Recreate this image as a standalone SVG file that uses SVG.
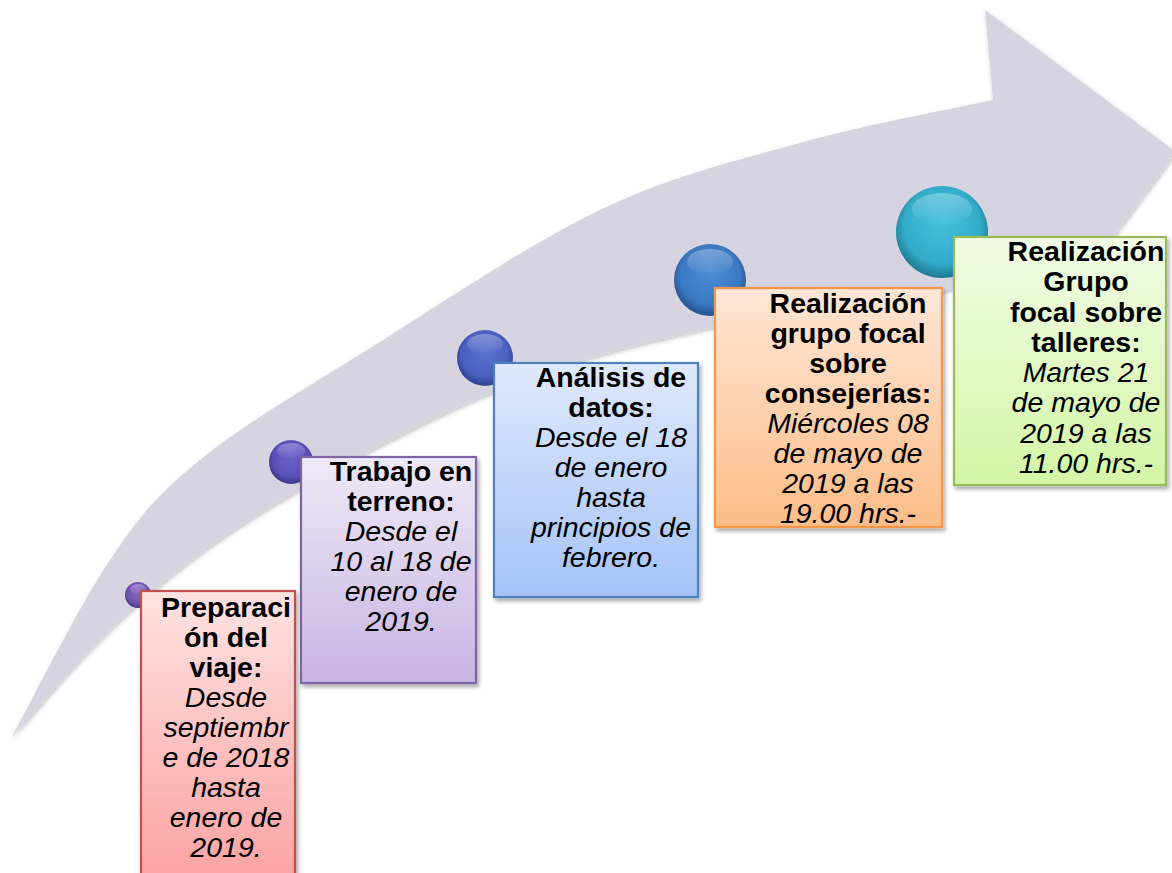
<svg xmlns="http://www.w3.org/2000/svg" width="1172" height="873" viewBox="0 0 1172 873">
<defs>
<style>
.t{font-family:"Liberation Sans",Arial,sans-serif;font-size:28.5px;fill:#000;text-anchor:middle}
.b{font-weight:bold}
.i{font-style:italic}
.box{stroke-width:2.2}
</style>
<filter id="sh" x="-10%" y="-10%" width="130%" height="130%">
<feDropShadow dx="2" dy="3" stdDeviation="2" flood-color="#000" flood-opacity="0.35"/>
</filter>
<filter id="ash" x="-5%" y="-5%" width="110%" height="110%">
<feDropShadow dx="1" dy="2" stdDeviation="2" flood-color="#000" flood-opacity="0.25"/>
</filter>
<linearGradient id="gR" x1="0" y1="0" x2="0" y2="1"><stop offset="0" stop-color="#fde3e2"/><stop offset="1" stop-color="#fba3a2"/></linearGradient>
<linearGradient id="gP" x1="0" y1="0" x2="0" y2="1"><stop offset="0" stop-color="#efe9f7"/><stop offset="1" stop-color="#c8b5e2"/></linearGradient>
<linearGradient id="gB" x1="0" y1="0" x2="0" y2="1"><stop offset="0" stop-color="#dfe9fc"/><stop offset="1" stop-color="#a6c3f7"/></linearGradient>
<linearGradient id="gO" x1="0" y1="0" x2="0" y2="1"><stop offset="0" stop-color="#fee6d6"/><stop offset="1" stop-color="#fcbd88"/></linearGradient>
<linearGradient id="gG" x1="0" y1="0" x2="0" y2="1"><stop offset="0" stop-color="#f2fce6"/><stop offset="1" stop-color="#d3f6a6"/></linearGradient>
<radialGradient id="s1" cx="0.5" cy="0.45" r="0.55" fx="0.5" fy="0.35"><stop offset="0" stop-color="#8a6cc6"/><stop offset="0.75" stop-color="#6f52ad"/><stop offset="1" stop-color="#4a3480"/></radialGradient>
<radialGradient id="s2" cx="0.5" cy="0.45" r="0.55" fx="0.5" fy="0.35"><stop offset="0" stop-color="#6b63cc"/><stop offset="0.75" stop-color="#5950b7"/><stop offset="1" stop-color="#3b3488"/></radialGradient>
<radialGradient id="s3" cx="0.5" cy="0.45" r="0.55" fx="0.5" fy="0.35"><stop offset="0" stop-color="#5d72d0"/><stop offset="0.75" stop-color="#4a5fbf"/><stop offset="1" stop-color="#2f3f8c"/></radialGradient>
<radialGradient id="s4" cx="0.5" cy="0.45" r="0.55" fx="0.5" fy="0.35"><stop offset="0" stop-color="#4d8ed4"/><stop offset="0.75" stop-color="#3b78c2"/><stop offset="1" stop-color="#24518c"/></radialGradient>
<radialGradient id="s5" cx="0.5" cy="0.45" r="0.55" fx="0.5" fy="0.35"><stop offset="0" stop-color="#46c2dc"/><stop offset="0.75" stop-color="#33acca"/><stop offset="1" stop-color="#1f7890"/></radialGradient>
<linearGradient id="hl" x1="0" y1="0" x2="0" y2="1"><stop offset="0" stop-color="#fff" stop-opacity="0.3"/><stop offset="1" stop-color="#fff" stop-opacity="0"/></linearGradient>
</defs>
<rect width="1172" height="873" fill="#fff"/>
<g id="arrow" filter="url(#ash)">
<path fill="#d7d4e2" d="M12,737 C28.3,707.5 78.7,606.2 110,560 C141.3,513.8 157.2,495 200,460 C242.8,425 300.3,391.7 367,350 C433.7,308.3 527.8,244.5 600,210 C672.2,175.5 734.5,161.3 800,143 C865.5,124.7 960.8,107.2 993,100 L985,10 L1176,152 L1090,268 C1066.3,271.7 1013,279.7 948,290 C883,300.3 776.3,312.8 700,330 C623.7,347.2 563.3,362.5 490,393 C416.7,423.5 321.7,475.2 260,513 C198.3,550.8 161.3,582.7 120,620 C78.7,657.3 30,717.5 12,737 Z"/>
</g>
<g id="connectors"></g>
<g id="node1">
<circle cx="138" cy="595" r="13" fill="url(#s1)"/>
<ellipse cx="138" cy="589" rx="8" ry="5" fill="url(#hl)"/>
<rect class="box" x="141" y="591" width="154" height="290" fill="url(#gR)" stroke="#c0504d" filter="url(#sh)"/>
<text class="t b" x="226" y="617">Preparaci</text>
<text class="t b" x="226" y="647">ón del</text>
<text class="t b" x="226" y="677">viaje:</text>
<text class="t i" x="226" y="707">Desde</text>
<text class="t i" x="226" y="737">septiembr</text>
<text class="t i" x="226" y="767">e de 2018</text>
<text class="t i" x="226" y="797">hasta</text>
<text class="t i" x="226" y="827">enero de</text>
<text class="t i" x="226" y="857">2019.</text>
</g>
<g id="node2">
<circle cx="291" cy="462" r="22" fill="url(#s2)"/>
<ellipse cx="291" cy="451" rx="14" ry="8" fill="url(#hl)"/>
<rect class="box" x="301" y="457" width="175" height="226" fill="url(#gP)" stroke="#8064a2" filter="url(#sh)"/>
<text class="t b" x="401" y="481">Trabajo en</text>
<text class="t b" x="401" y="511">terreno:</text>
<text class="t i" x="401" y="541">Desde el</text>
<text class="t i" x="401" y="571">10 al 18 de</text>
<text class="t i" x="401" y="601">enero de</text>
<text class="t i" x="401" y="631">2019.</text>
</g>
<g id="node3">
<circle cx="485" cy="358" r="28" fill="url(#s3)"/>
<ellipse cx="485" cy="344" rx="18" ry="10" fill="url(#hl)"/>
<rect class="box" x="494" y="363" width="204" height="234" fill="url(#gB)" stroke="#4f81bd" filter="url(#sh)"/>
<text class="t b" x="611" y="387">Análisis de</text>
<text class="t b" x="611" y="417">datos:</text>
<text class="t i" x="611" y="447">Desde el 18</text>
<text class="t i" x="611" y="477">de enero</text>
<text class="t i" x="611" y="507">hasta</text>
<text class="t i" x="611" y="537">principios de</text>
<text class="t i" x="611" y="567">febrero.</text>
</g>
<g id="node4">
<circle cx="710" cy="280" r="36" fill="url(#s4)"/>
<ellipse cx="710" cy="262" rx="23" ry="13" fill="url(#hl)"/>
<rect class="box" x="715" y="288" width="227" height="239" fill="url(#gO)" stroke="#f79646" filter="url(#sh)"/>
<text class="t b" x="848" y="313">Realización</text>
<text class="t b" x="848" y="343">grupo focal</text>
<text class="t b" x="848" y="373">sobre</text>
<text class="t b" x="848" y="403">consejerías:</text>
<text class="t i" x="848" y="433">Miércoles 08</text>
<text class="t i" x="848" y="463">de mayo de</text>
<text class="t i" x="848" y="493">2019 a las</text>
<text class="t i" x="848" y="523">19.00 hrs.-</text>
</g>
<g id="node5">
<circle cx="942" cy="232" r="46" fill="url(#s5)"/>
<ellipse cx="942" cy="209" rx="30" ry="16" fill="url(#hl)"/>
<rect class="box" x="954" y="237" width="212" height="248" fill="url(#gG)" stroke="#9bbb59" filter="url(#sh)"/>
<text class="t b" x="1086" y="261">Realización</text>
<text class="t b" x="1086" y="291">Grupo</text>
<text class="t b" x="1086" y="322">focal sobre</text>
<text class="t b" x="1086" y="352">talleres:</text>
<text class="t i" x="1086" y="382">Martes 21</text>
<text class="t i" x="1086" y="412">de mayo de</text>
<text class="t i" x="1086" y="443">2019 a las</text>
<text class="t i" x="1086" y="473">11.00 hrs.-</text>
</g>
</svg>
